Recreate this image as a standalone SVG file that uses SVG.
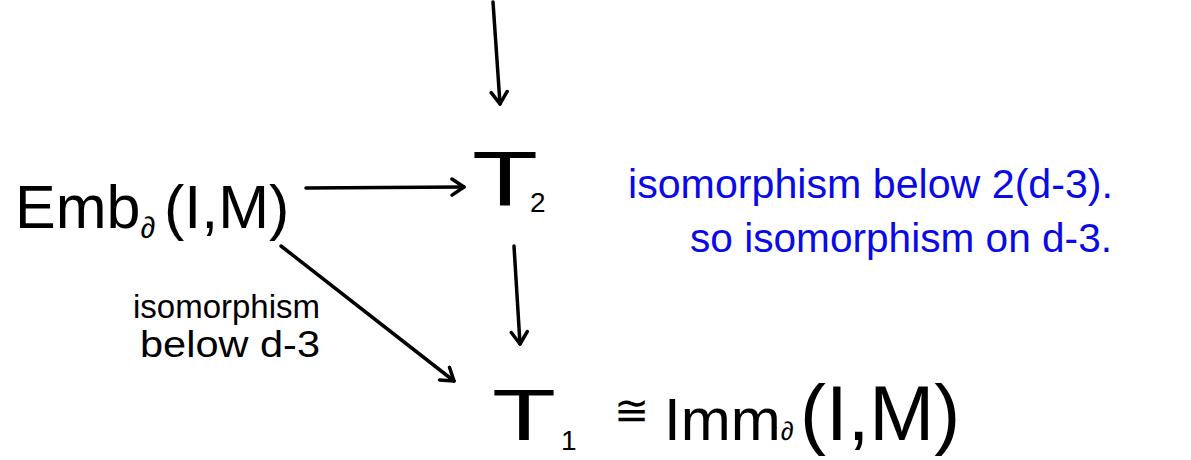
<svg xmlns="http://www.w3.org/2000/svg" width="1191" height="460" viewBox="0 0 1191 460">
<defs>
<style>
.k{font-family:"Liberation Sans",Arial,sans-serif;fill:#000}
.b{font-family:"Liberation Sans",Arial,sans-serif;fill:#0a0ae6}
.c{fill:none;stroke:#000;stroke-width:3.5;stroke-linecap:round;stroke-linejoin:round}
</style>
<marker id="ah" viewBox="0 0 20 20" refX="16" refY="10" markerWidth="20" markerHeight="20" markerUnits="userSpaceOnUse" orient="auto">
<path d="M4,2 L16,10 L4,18" fill="none" stroke="#000" stroke-width="3.5" stroke-linecap="round" stroke-linejoin="round"/>
</marker>
</defs>
<rect width="1191" height="460" fill="#fff"/>
<g id="connectors">
<path class="c" d="M493,2 L500,104" marker-end="url(#ah)"/>
<path class="c" d="M306,188 L464,187" marker-end="url(#ah)"/>
<path class="c" d="M514,246 L520,344" marker-end="url(#ah)"/>
<path class="c" d="M281,246 L454,381" marker-end="url(#ah)"/>
</g>
<g id="node-emb">
<text class="k" x="15" y="228" font-size="61">Emb<tspan font-size="30" dy="10">∂</tspan><tspan x="164" dy="-10">(I,M)</tspan></text>
</g>
<g id="node-t2">
<text class="k" x="472" y="206" font-size="78" textLength="66" lengthAdjust="spacingAndGlyphs">T</text>
<text class="k" x="530" y="212" font-size="28">2</text>
</g>
<g id="node-t1">
<text class="k" x="492" y="440" font-size="72" textLength="64" lengthAdjust="spacingAndGlyphs">T</text>
<text class="k" x="561" y="450" font-size="28">1</text>
<text class="k" x="614" y="425" font-size="42">≅</text>
<text class="k" x="664" y="440" font-size="60">Imm<tspan font-size="26">∂</tspan><tspan x="800" font-size="78">(I,M)</tspan></text>
</g>
<g id="label-diag">
<text class="k" x="133" y="318" font-size="34" textLength="187" lengthAdjust="spacingAndGlyphs">isomorphism</text>
<text class="k" x="140" y="357" font-size="36" textLength="180" lengthAdjust="spacingAndGlyphs">below d-3</text>
</g>
<g id="label-blue">
<text class="b" x="628" y="198" font-size="40" textLength="485" lengthAdjust="spacingAndGlyphs">isomorphism below 2(d-3).</text>
<text class="b" x="690" y="252" font-size="40" textLength="422" lengthAdjust="spacingAndGlyphs">so isomorphism on d-3.</text>
</g>
</svg>
